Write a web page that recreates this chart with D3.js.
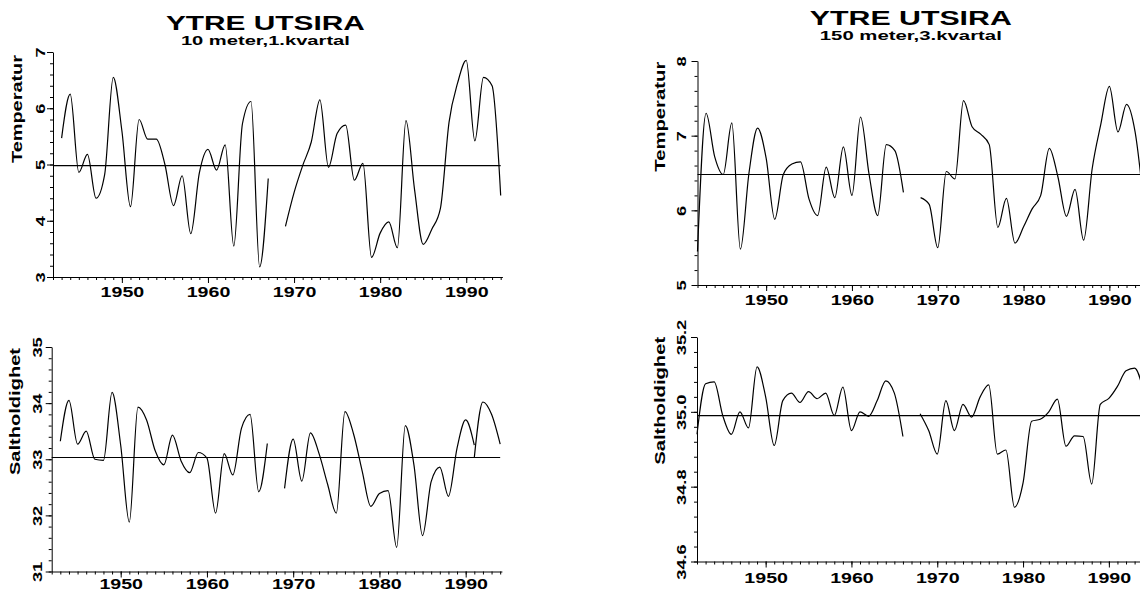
<!DOCTYPE html>
<html>
<head>
<meta charset="utf-8">
<script src="https://cdn.jsdelivr.net/npm/d3@7"></script>
<style>
  html, body { margin: 0; padding: 0; background: #fff; }
  svg { display: block; }
  text { font-family: "Liberation Sans", Arial, Helvetica, sans-serif; font-weight: bold; fill: #000; }
</style>
</head>
<body>
<svg id="chart" width="1140" height="591"></svg>
<script>
// Ytre Utsira hydrographic station, annual series
const titleMain = "YTRE UTSIRA";
const subtitles = ["10 meter,1.kvartal", "150 meter,3.kvartal"];
const axisTitles = ["Temperatur", "Saltholdighet"];

// 10 m, 1st quarter: temperature (1943-1994, no data 1968)
const yearsTemp10 = d3.range(1943, 1995);
const temp10 = [
  5.47, 6.25, 4.86, 5.18, 4.40, 4.82, 6.55, 5.60, 4.25, 5.80,   // 1943-1952
  5.45, 5.45, 5.00, 4.27, 4.80, 3.77, 4.85, 5.27, 4.90, 5.35,   // 1953-1962
  3.55, 5.72, 6.12, 3.18, 4.75, null, 3.90, 4.50, 4.98, 5.40,   // 1963-1972
  6.15, 4.95, 5.55, 5.70, 4.72, 5.02, 3.35, 3.78, 3.98, 3.52,   // 1973-1982
  5.78, 4.55, 3.58, 3.85, 4.22, 5.75, 6.45, 6.85, 5.42, 6.55,   // 1983-1992
  6.40, 4.45                                                    // 1993-1994
];

// 10 m, 1st quarter: salinity (1943-1994, no data 1968, break in the record at 1991)
const yearsSal10 = d3.range(1943, 1992).concat([1991, 1991, 1992, 1993, 1994]);
const sal10 = [
  33.32, 34.05, 33.27, 33.50, 33.00, 32.98, 34.19, 33.25, 31.88, 33.93,   // 1943-1952
  33.70, 33.15, 32.90, 33.43, 32.97, 32.76, 33.12, 33.02, 32.04, 33.10,   // 1953-1962
  32.72, 33.55, 33.80, 32.42, 33.28, null, 32.48, 33.36, 32.61, 33.47,    // 1963-1972
  33.10, 32.55, 32.04, 33.85, 33.45, 32.79, 32.16, 32.39, 32.44, 31.43,   // 1973-1982
  33.60, 32.90, 31.64, 32.60, 32.86, 32.34, 33.20, 33.70, 33.25,          // 1983-1991
  null, 33.03, 34.02, 33.80, 33.27                                        // 1991-1994
];

// 150 m, 3rd quarter (1942-1994, no data 1967)
const years150 = d3.range(1942, 1995);
const temp150 = [
  5.45, 7.30, 6.72, 6.48, 7.17, 5.48, 6.50, 7.10, 6.70, 5.88,   // 1942-1951
  6.48, 6.62, 6.65, 6.15, 5.93, 6.58, 6.17, 6.85, 6.20, 7.25,   // 1952-1961
  6.48, 5.93, 6.88, 6.80, 6.24, null, 6.17, 6.08, 5.50, 6.52,   // 1962-1971
  6.42, 7.47, 7.12, 7.02, 6.88, 5.77, 6.16, 5.56, 5.78, 6.02,   // 1972-1981
  6.20, 6.83, 6.45, 5.92, 6.28, 5.60, 6.56, 7.15, 7.66, 7.05,   // 1982-1991
  7.42, 7.05, 6.10                                              // 1992-1994
];
const sal150 = [
  34.940, 35.075, 35.080, 34.990, 34.940, 35.000, 34.957, 35.120, 35.040, 34.910,   // 1942-1951
  35.030, 35.050, 35.025, 35.054, 35.035, 35.050, 34.990, 35.066, 34.950, 35.000,   // 1952-1961
  34.988, 35.030, 35.083, 35.050, 34.934, null,   34.995, 34.950, 34.887, 35.030,   // 1962-1971
  34.950, 35.020, 34.986, 35.040, 35.072, 34.887, 34.898, 34.745, 34.810, 34.975,   // 1972-1981
  34.980, 35.000, 35.034, 34.908, 34.936, 34.934, 34.807, 35.020, 35.036, 35.068,   // 1982-1991
  35.110, 35.117, 35.060                                                            // 1992-1994
];

// long-term means drawn as reference lines
const meanTemp10 = 4.98;
const meanSal10 = 33.03;
const meanTemp150 = 6.48;
const meanSal150 = 34.99;

// tick values
const decadeTicks = [1950, 1960, 1970, 1980, 1990];
const yearTicks = d3.range(1942, 1995);
const tempTicks10 = [3, 4, 5, 6, 7];
const salTicks10 = [31, 32, 33, 34, 35];
const tempTicks150 = [5, 6, 7, 8];
const salTicks150 = [34.6, 34.8, 35.0, 35.2];

const svg = d3.select("#chart");
const TEXT_STRETCH = 1.4;   // wide lettering

function stretch(sel, factor) {
  sel.each(function () {
    const n = this.getComputedTextLength();
    d3.select(this).attr("textLength", n * factor).attr("lengthAdjust", "spacingAndGlyphs");
  });
}
function fitTo(sel, len) {
  sel.attr("textLength", len).attr("lengthAdjust", "spacingAndGlyphs");
}

const panels = [
  { years: yearsTemp10, values: temp10, mean: meanTemp10, yDomain: [3, 7], yTicks: tempTicks10,
    minorStep: 0.2, fmt: d3.format("d"), label: axisTitles[0],
    x0: 53, x1: 502.4, yBottom: 277, yTop: 52, tickOff: 12.5, xLabelBase: 20,
    titleX: 17, titleY: 109, titleLen: 108 },
  { years: yearsSal10, values: sal10, mean: meanSal10, yDomain: [31, 35], yTicks: salTicks10,
    minorStep: 0.2, fmt: d3.format("d"), label: axisTitles[1],
    x0: 51.7, x1: 501.9, yBottom: 571.5, yTop: 347, tickOff: 14, xLabelBase: 17.5,
    titleX: 14.5, titleY: 411.5, titleLen: 127 },
  { years: years150, values: temp150, mean: meanTemp150, yDomain: [5, 8], yTicks: tempTicks150,
    minorStep: 0.2, fmt: d3.format("d"), label: axisTitles[0],
    x0: 697.5, x1: 1145.4, yBottom: 285, yTop: 61, tickOff: 16, xLabelBase: 19.5,
    titleX: 659.5, titleY: 116.7, titleLen: 110 },
  { years: years150, values: sal150, mean: meanSal150, yDomain: [34.6, 35.2], yTicks: salTicks150,
    minorStep: 0.04, fmt: d3.format(".1f"), label: axisTitles[1],
    x0: 697, x1: 1144.9, yBottom: 561.5, yTop: 337, tickOff: 16, xLabelBase: 21.5,
    titleX: 659.5, titleY: 400.8, titleLen: 128 }
];

panels.forEach(p => {
  const x = d3.scaleLinear().domain([1942, 1994.2]).range([p.x0, p.x1]);
  const y = d3.scaleLinear().domain(p.yDomain).range([p.yBottom, p.yTop]);
  const g = svg.append("g");

  // minor year ticks
  g.append("g")
    .attr("transform", `translate(0,${p.yBottom})`)
    .call(d3.axisBottom(x).tickValues(yearTicks).tickSize(3).tickSizeOuter(0).tickFormat(""))
    .call(s => s.select(".domain").remove());

  // x axis with decade labels
  const gx = g.append("g")
    .attr("transform", `translate(0,${p.yBottom})`)
    .call(d3.axisBottom(x).tickValues(decadeTicks).tickSize(6).tickSizeOuter(0).tickFormat(d3.format("d")));
  gx.selectAll(".tick text")
    .attr("y", p.xLabelBase).attr("dy", 0)
    .style("font-size", "14px");
  stretch(gx.selectAll(".tick text"), TEXT_STRETCH);

  // minor value ticks
  const [lo, hi] = p.yDomain;
  const nMinor = Math.round((hi - lo) / p.minorStep);
  const minorVals = d3.range(nMinor + 1).map(i => lo + i * p.minorStep);
  g.append("g")
    .attr("transform", `translate(${p.x0},0)`)
    .call(d3.axisLeft(y).tickValues(minorVals).tickSize(3).tickSizeOuter(0).tickFormat(""))
    .call(s => s.select(".domain").remove());

  // y axis with rotated labels
  const gy = g.append("g")
    .attr("transform", `translate(${p.x0},0)`)
    .call(d3.axisLeft(y).tickValues(p.yTicks).tickSize(6).tickSizeOuter(0).tickFormat(p.fmt));
  gy.selectAll(".tick text")
    .attr("x", 0).attr("y", 0).attr("dy", "0.36em")
    .attr("text-anchor", "middle")
    .attr("transform", `translate(${-p.tickOff},0) rotate(-90)`)
    .style("font-size", "13px");
  stretch(gy.selectAll(".tick text"), TEXT_STRETCH);

  // axis title
  const t = g.append("text")
    .attr("transform", `translate(${p.titleX},${p.titleY}) rotate(-90)`)
    .attr("text-anchor", "middle")
    .attr("dy", "0.36em")
    .style("font-size", "14px")
    .text(p.label);
  fitTo(t, p.titleLen);

  // long-term mean
  g.append("path")
    .datum([1942, 1994])
    .attr("fill", "none")
    .attr("stroke", "#000")
    .attr("stroke-width", 1.1)
    .attr("d", d3.line().x(d => x(d)).y(() => y(p.mean)));

  // annual series, smoothed
  const pts = p.years.map((yr, i) => [yr, p.values[i]]);
  g.append("path")
    .datum(pts)
    .attr("fill", "none")
    .attr("stroke", "#000")
    .attr("stroke-width", 1.2)
    .attr("d", d3.line()
      .defined(d => d[1] != null)
      .x(d => x(d[0]))
      .y(d => y(d[1]))
      .curve(d3.curveMonotoneX));
});

// headings
const headings = [
  { cx: 265.4, titleBase: 30, titleLen: 199, subBase: 45, sub: subtitles[0], subLen: 169 },
  { cx: 910.8, titleBase: 25, titleLen: 202, subBase: 40, sub: subtitles[1], subLen: 182 }
];
headings.forEach(h => {
  const t = svg.append("text")
    .attr("x", h.cx).attr("y", h.titleBase)
    .attr("text-anchor", "middle")
    .style("font-size", "21px")
    .text(titleMain);
  fitTo(t, h.titleLen);
  const s = svg.append("text")
    .attr("x", h.cx).attr("y", h.subBase)
    .attr("text-anchor", "middle")
    .style("font-size", "13px")
    .text(h.sub);
  fitTo(s, h.subLen);
});
</script>
</body>
</html>
